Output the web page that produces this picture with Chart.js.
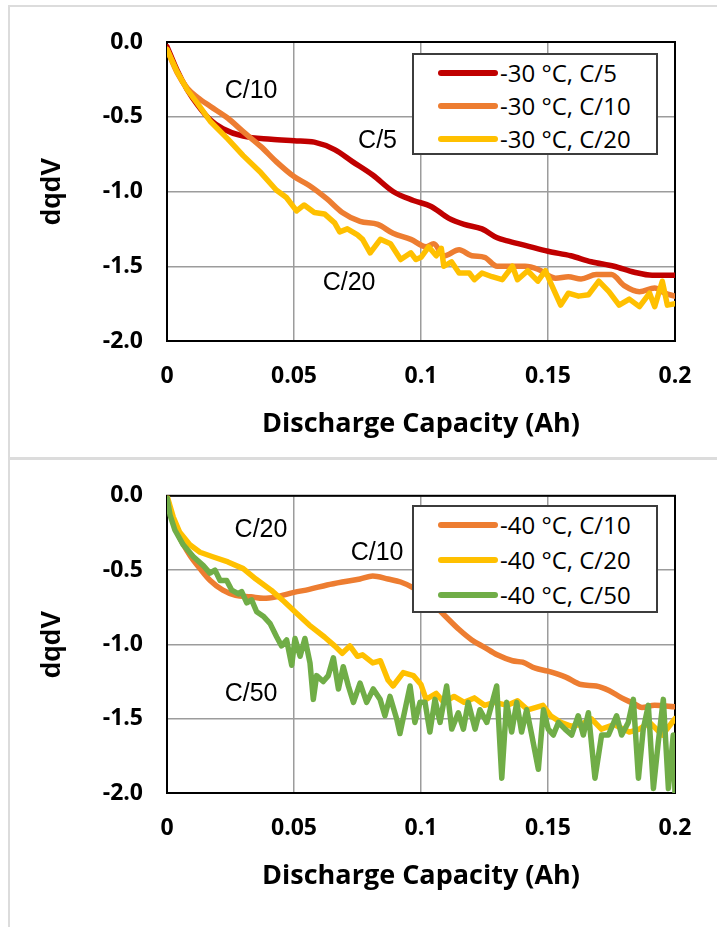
<!DOCTYPE html>
<html>
<head>
<meta charset="utf-8">
<script src="https://cdn.jsdelivr.net/npm/chart.js@4.4.1/dist/chart.umd.min.js"></script>
<style>
  body { margin: 0; background: #fff; }
  #page { position: relative; width: 717px; height: 927px; overflow: hidden; }
  .panel { position: absolute; border: 2px solid #dcdcdc; box-sizing: border-box; }
  canvas { position: absolute; left: 0; }
  .legend { position: absolute; background: #fff; border: 2px solid #3c3c3c; box-sizing: border-box;
            padding-left: 24px; font-family: "Open Sans", sans-serif; font-size: 24px; color: #000; }
  .legend .row { display: flex; align-items: center; white-space: nowrap; }
  .legend .swatch { width: 60px; height: 6px; border-radius: 3px; margin-right: 2px; }
</style>
</head>
<body>
<div id="page">
  <div class="panel" style="left:8px;top:5px;width:720px;height:454px"></div>
  <div class="panel" style="left:8px;top:458px;width:720px;height:480px"></div>
  <canvas id="chartTop" width="717" height="458" style="top:0"></canvas>
  <canvas id="chartBottom" width="717" height="469" style="top:458px"></canvas>
</div>
<script>
// axis ticks
const xTicks = [0, 0.05, 0.1, 0.15, 0.2];
const xTickLabels = ["0", "0.05", "0.1", "0.15", "0.2"];
const yTicks = [-2, -1.5, -1, -0.5, 0];
const yTickLabels = ["-2.0", "-1.5", "-1.0", "-0.5", "0.0"];

// -30 °C panel
const m30c5X = [0, 0.004, 0.008, 0.012, 0.017, 0.022, 0.030, 0.041, 0.050, 0.058, 0.066, 0.073, 0.081, 0.089, 0.097,
  0.104, 0.111, 0.117, 0.124, 0.130, 0.134, 0.141, 0.150, 0.159, 0.167, 0.176, 0.184, 0.191, 0.200];
const m30c5Y = [-0.03, -0.19, -0.32, -0.42, -0.52, -0.58, -0.63, -0.65, -0.66, -0.67, -0.72, -0.80, -0.89, -1.00, -1.06,
  -1.10, -1.18, -1.22, -1.25, -1.31, -1.33, -1.36, -1.40, -1.43, -1.47, -1.50, -1.54, -1.56, -1.56];

const m30c10X = [0, 0.004, 0.008, 0.012, 0.017, 0.024, 0.030, 0.037, 0.043, 0.050, 0.056, 0.063, 0.069, 0.076, 0.083,
  0.089, 0.096, 0.102, 0.105, 0.109, 0.115, 0.120, 0.125, 0.130, 0.136, 0.141, 0.146, 0.153, 0.158, 0.163,
  0.169, 0.175, 0.180, 0.186, 0.192, 0.196, 0.200];
const m30c10Y = [-0.05, -0.205, -0.31, -0.37, -0.43, -0.51, -0.60, -0.70, -0.80, -0.90, -0.96, -1.05, -1.14, -1.20, -1.22,
  -1.28, -1.32, -1.37, -1.35, -1.43, -1.39, -1.43, -1.44, -1.50, -1.50, -1.50, -1.52, -1.58, -1.57, -1.585,
  -1.556, -1.556, -1.63, -1.67, -1.645, -1.68, -1.70];

const m30c20X = [0, 0.004, 0.008, 0.012, 0.017, 0.024, 0.030, 0.037, 0.043, 0.047, 0.051, 0.054, 0.058, 0.062, 0.066,
  0.068, 0.071, 0.075, 0.077, 0.080, 0.084, 0.088, 0.092, 0.096, 0.098, 0.100, 0.103, 0.106, 0.108, 0.109,
  0.112, 0.115, 0.119, 0.121, 0.124, 0.128, 0.132, 0.136, 0.138, 0.142, 0.146, 0.149, 0.151, 0.155, 0.158,
  0.162, 0.166, 0.170, 0.174, 0.178, 0.182, 0.186, 0.190, 0.192, 0.195, 0.197, 0.200];
const m30c20Y = [-0.05, -0.20, -0.32, -0.41, -0.53, -0.65, -0.76, -0.875, -0.99, -1.04, -1.13, -1.09, -1.14, -1.15, -1.21,
  -1.27, -1.25, -1.29, -1.32, -1.41, -1.32, -1.35, -1.455, -1.41, -1.455, -1.44, -1.37, -1.43, -1.38, -1.50,
  -1.47, -1.545, -1.545, -1.59, -1.545, -1.57, -1.59, -1.50, -1.59, -1.53, -1.60, -1.53, -1.61, -1.76, -1.68,
  -1.70, -1.69, -1.60, -1.67, -1.76, -1.72, -1.77, -1.68, -1.77, -1.60, -1.76, -1.75];

// -40 °C panel
const m40c10X = [0, 0.0025, 0.005, 0.009, 0.013, 0.017, 0.022, 0.027, 0.033, 0.038, 0.043, 0.050, 0.056, 0.063, 0.069,
  0.076, 0.081, 0.087, 0.092, 0.097, 0.103, 0.109, 0.115, 0.120, 0.125, 0.130, 0.136, 0.140, 0.145, 0.150,
  0.157, 0.163, 0.169, 0.174, 0.179, 0.184, 0.187, 0.192, 0.200];
const m40c10Y = [-0.01, -0.17, -0.28, -0.40, -0.49, -0.57, -0.635, -0.67, -0.68, -0.69, -0.68, -0.65, -0.63, -0.60, -0.58,
  -0.56, -0.54, -0.56, -0.58, -0.62, -0.70, -0.80, -0.90, -0.97, -1.02, -1.07, -1.11, -1.12, -1.16, -1.18,
  -1.22, -1.27, -1.28, -1.31, -1.36, -1.40, -1.425, -1.41, -1.42];

const m40c20X = [0, 0.0025, 0.005, 0.009, 0.013, 0.018, 0.024, 0.030, 0.035, 0.041, 0.046, 0.051, 0.056, 0.062, 0.066,
  0.069, 0.072, 0.075, 0.077, 0.081, 0.084, 0.087, 0.089, 0.093, 0.097, 0.100, 0.102, 0.106, 0.109, 0.113,
  0.117, 0.121, 0.125, 0.129, 0.134, 0.138, 0.142, 0.148, 0.151, 0.155, 0.159, 0.163, 0.167, 0.171, 0.176,
  0.182, 0.186, 0.190, 0.195, 0.200];
const m40c20Y = [0, -0.145, -0.245, -0.33, -0.38, -0.41, -0.445, -0.49, -0.56, -0.635, -0.71, -0.79, -0.87, -0.95, -1.01,
  -1.06, -1.01, -1.08, -1.07, -1.125, -1.11, -1.24, -1.28, -1.19, -1.21, -1.27, -1.37, -1.33, -1.39, -1.35,
  -1.39, -1.36, -1.41, -1.39, -1.41, -1.38, -1.44, -1.41, -1.48, -1.525, -1.55, -1.54, -1.50, -1.57, -1.54,
  -1.59, -1.57, -1.525, -1.61, -1.50];

const m40c50X = [0, 0.0012, 0.0031, 0.0064, 0.0104, 0.0143, 0.0169, 0.0189, 0.0209, 0.0235, 0.0255, 0.0281, 0.0294, 0.0314, 0.0333,
  0.0353, 0.0379, 0.0406, 0.0432, 0.0451, 0.0471, 0.0491, 0.0504, 0.0524, 0.0543, 0.0563, 0.0576, 0.0589, 0.0615, 0.0635,
  0.0655, 0.0675, 0.0694, 0.0714, 0.0734, 0.0760, 0.0786, 0.0812, 0.0839, 0.0858, 0.0878, 0.0904, 0.0917, 0.0937, 0.0957,
  0.0976, 0.0996, 0.1016, 0.1035, 0.1055, 0.1075, 0.1101, 0.1121, 0.1147, 0.1167, 0.1186, 0.1213, 0.1232, 0.1259, 0.1298,
  0.1318, 0.1337, 0.1357, 0.1377, 0.1396, 0.1416, 0.1436, 0.1462, 0.1482, 0.1501, 0.1521, 0.1541, 0.1567, 0.1593, 0.1619,
  0.1639, 0.1659, 0.1685, 0.1711, 0.1738, 0.1770, 0.1790, 0.1816, 0.1836, 0.1856, 0.1875, 0.1895, 0.1915, 0.1934, 0.1954,
  0.1974, 0.1993, 0.2000];
const m40c50Y = [-0.01, -0.13, -0.23, -0.33, -0.41, -0.47, -0.52, -0.50, -0.57, -0.57, -0.635, -0.66, -0.645, -0.72, -0.70,
  -0.78, -0.81, -0.86, -0.95, -1.01, -0.97, -1.14, -0.96, -1.08, -0.96, -1.125, -1.37, -1.21, -1.25, -1.21,
  -1.09, -1.30, -1.15, -1.28, -1.39, -1.26, -1.39, -1.30, -1.37, -1.48, -1.35, -1.50, -1.60, -1.44, -1.28,
  -1.525, -1.39, -1.39, -1.59, -1.37, -1.525, -1.28, -1.57, -1.46, -1.57, -1.39, -1.57, -1.44, -1.525, -1.28,
  -1.90, -1.39, -1.59, -1.39, -1.59, -1.44, -1.61, -1.84, -1.44, -1.57, -1.61, -1.525, -1.57, -1.61, -1.48,
  -1.61, -1.46, -1.90, -1.61, -1.61, -1.48, -1.61, -1.525, -1.37, -1.90, -1.57, -1.41, -1.97, -1.66, -1.37,
  -1.97, -1.61, -2.0];

const RED = "#c00000", ORANGE = "#ed7d31", GOLD = "#ffc000", GREEN = "#70ad47";

const topSeries = [
  { label: "-30 °C, C/5", xs: m30c5X, ys: m30c5Y, color: RED, smooth: true },
  { label: "-30 °C, C/10", xs: m30c10X, ys: m30c10Y, color: ORANGE, smooth: true },
  { label: "-30 °C, C/20", xs: m30c20X, ys: m30c20Y, color: GOLD, smooth: false }
];
const bottomSeries = [
  { label: "-40 °C, C/10", xs: m40c10X, ys: m40c10Y, color: ORANGE, smooth: true },
  { label: "-40 °C, C/20", xs: m40c20X, ys: m40c20Y, color: GOLD, smooth: false },
  { label: "-40 °C, C/50", xs: m40c50X, ys: m40c50Y, color: GREEN, smooth: false }
];

// rate labels written on the plot, placed in data units
const topNotes = [
  { text: "C/10", x: 0.0331, y: -0.33 },
  { text: "C/5", x: 0.0829, y: -0.666 },
  { text: "C/20", x: 0.0717, y: -1.61 }
];
const bottomNotes = [
  { text: "C/20", x: 0.037, y: -0.234 },
  { text: "C/10", x: 0.0827, y: -0.387 },
  { text: "C/50", x: 0.0331, y: -1.336 }
];

const framePlugin = {
  id: "frame",
  beforeDatasetsDraw(chart) {
    const { ctx, chartArea: a } = chart;
    ctx.save();
    ctx.strokeStyle = "#000";
    ctx.lineWidth = 2;
    ctx.strokeRect(a.left, a.top, a.right - a.left, a.bottom - a.top);
    ctx.restore();
  }
};

const notesPlugin = {
  id: "notes",
  afterDatasetsDraw(chart, args, opts) {
    const { ctx, scales } = chart;
    ctx.save();
    ctx.font = '25px "Liberation Sans", Arial, sans-serif';
    ctx.fillStyle = "#000";
    ctx.textAlign = "center";
    ctx.textBaseline = "middle";
    opts.items.forEach(n => {
      ctx.fillText(n.text, scales.x.getPixelForValue(n.x), scales.y.getPixelForValue(n.y));
    });
    ctx.restore();
  }
};

const tickFont = { family: "Open Sans", weight: "bold", size: 23 };

function buildChart(id, series, notes, padTop, padBottom) {
  return new Chart(document.getElementById(id), {
    type: "line",
    data: {
      datasets: series.map((s, i) => ({
        label: s.label,
        data: s.xs.map((x, k) => ({ x: x, y: s.ys[k] })),
        borderColor: s.color,
        backgroundColor: s.color,
        borderWidth: 5.5,
        pointRadius: 0,
        borderJoinStyle: "round",
        borderCapStyle: "round",
        cubicInterpolationMode: s.smooth ? "monotone" : "default",
        tension: 0,
        order: series.length - i
      }))
    },
    options: {
      responsive: false,
      animation: false,
      devicePixelRatio: 1,
      layout: { padding: { left: 0, right: 42, top: padTop, bottom: padBottom } },
      plugins: {
        legend: { display: false },
        tooltip: { enabled: false },
        notes: { items: notes }
      },
      scales: {
        x: {
          type: "linear", min: 0, max: 0.2,
          afterBuildTicks: s => { s.ticks = xTicks.map(v => ({ value: v })); },
          afterFit: s => { s.height = 100; },
          ticks: { callback: (v, i) => xTickLabels[i], font: tickFont, color: "#000", padding: 22, maxRotation: 0, autoSkip: false },
          grid: { color: "#9c9c9c", lineWidth: 1.5, drawTicks: false },
          border: { display: false },
          title: { display: true, text: "Discharge Capacity (Ah)", color: "#000",
                   font: { family: "Open Sans", weight: "bold", size: 27 }, padding: { top: 0, bottom: 0 } }
        },
        y: {
          type: "linear", min: -2, max: 0,
          afterBuildTicks: s => { s.ticks = yTicks.map(v => ({ value: v })); },
          afterFit: s => { s.width = 167; },
          ticks: { callback: (v, i) => yTickLabels[i], font: tickFont, color: "#000", padding: 24, autoSkip: false },
          grid: { color: "#9c9c9c", lineWidth: 1.5, drawTicks: false },
          border: { display: false },
          title: { display: true, text: "dqdV", color: "#000",
                   font: { family: "Liberation Sans", weight: "bold", size: 27 }, padding: { top: 36, bottom: 0 } }
        }
      }
    },
    plugins: [framePlugin, notesPlugin]
  });
}

function buildLegend(chart, box) {
  const el = document.createElement("div");
  el.className = "legend";
  el.style.left = box.left + "px";
  el.style.top = box.top + "px";
  el.style.width = box.width + "px";
  el.style.height = box.height + "px";
  el.style.paddingTop = box.padTop + "px";
  chart.data.datasets.forEach(ds => {
    const row = document.createElement("div");
    row.className = "row";
    row.style.height = box.rowHeight + "px";
    const sw = document.createElement("span");
    sw.className = "swatch";
    sw.style.background = ds.borderColor;
    const txt = document.createElement("span");
    txt.textContent = ds.label;
    row.appendChild(sw);
    row.appendChild(txt);
    el.appendChild(row);
  });
  document.getElementById("page").appendChild(el);
}

const topChart = buildChart("chartTop", topSeries, topNotes, 42, 17);
const bottomChart = buildChart("chartBottom", bottomSeries, bottomNotes, 35, 34);

buildLegend(topChart, { left: 412, top: 53, width: 246, height: 102, padTop: 1, rowHeight: 33 });
buildLegend(bottomChart, { left: 412, top: 505, width: 246, height: 108, padTop: 0, rowHeight: 35 });
</script>
</body>
</html>
